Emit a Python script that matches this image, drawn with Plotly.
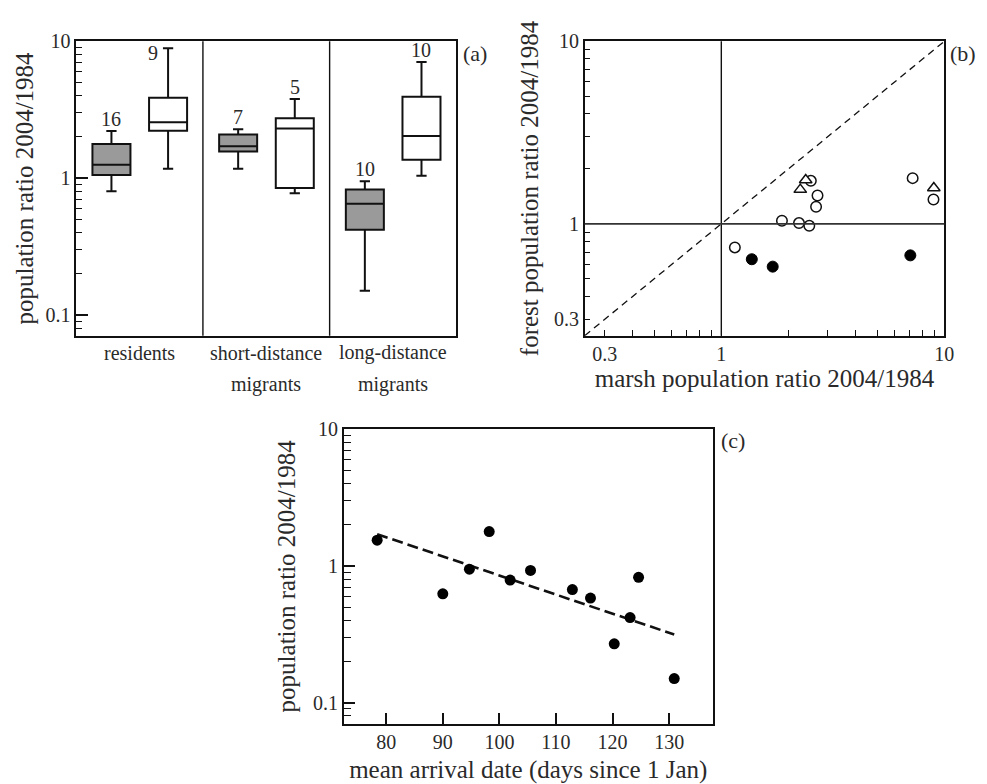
import numpy as np
import plotly.graph_objects as go

# ---------------- data ----------------
# (a) box summaries of 2004/1984 population ratios by migration strategy
groups = ["residents", "short-distance migrants", "long-distance migrants"]
group_label_lines = [["residents"], ["short-distance", "migrants"], ["long-distance", "migrants"]]

forest_lo = [0.80, 1.17, 0.150]
forest_q1 = [1.05, 1.56, 0.419]
forest_med = [1.25, 1.71, 0.648]
forest_q3 = [1.77, 2.08, 0.823]
forest_hi = [2.21, 2.27, 0.945]
forest_n = [16, 7, 10]

marsh_lo = [1.17, 0.774, 1.04]
marsh_q1 = [2.22, 0.847, 1.36]
marsh_med = [2.56, 2.30, 2.03]
marsh_q3 = [3.86, 2.73, 3.93]
marsh_hi = [8.9, 3.78, 7.06]
marsh_n = [9, 5, 10]

# (b) marsh vs forest ratios per species, three symbol groups
open_marsh = [2.52, 2.70, 2.66, 1.87, 2.23, 2.48, 1.15, 7.21, 8.94]
open_forest = [1.72, 1.43, 1.24, 1.04, 1.01, 0.975, 0.743, 1.78, 1.36]
tri_marsh = [2.39, 2.26, 8.97]
tri_forest = [1.74, 1.54, 1.57]
filled_marsh = [1.37, 1.70, 7.04]
filled_forest = [0.64, 0.583, 0.672]

# (c) mean arrival date vs population ratio
arrival_day = [78.4, 90.0, 94.7, 98.2, 101.9, 105.5, 112.9, 116.1, 120.3, 123.1, 124.6, 130.9]
arrival_ratio = [1.54, 0.624, 0.945, 1.78, 0.787, 0.925, 0.671, 0.581, 0.269, 0.419, 0.824, 0.150]

# tick labels
ratio_ticks_ac = [0.1, 1, 10]
ratio_ticks_b = [0.3, 1, 10]
day_ticks = [80, 90, 100, 110, 120, 130]

# ---------------- styling ----------------
W, H = 987, 784
FONT = "Liberation Serif"
TXT = "#2a2a2a"
GREY = "#9a9a9a"
TICK_FONT = dict(family=FONT, size=20, color=TXT)
TITLE_FONT = dict(family=FONT, size=25, color=TXT)


def px_x(p):
    return p / W


def px_y(p):
    return 1 - p / H


def minor_vals(lo_exp, hi_exp, skip=()):
    vals = []
    for e in range(lo_exp, hi_exp + 1):
        for d in range(2, 10):
            v = d * 10.0 ** e
            if round(v, 6) not in skip:
                vals.append(v)
    return vals


dom_a_x = [px_x(77), px_x(461)]
dom_ab_y = [px_y(329.3), px_y(30.7)]
dom_b_x = [px_x(590.7), px_x(954)]
dom_c_x = [px_x(347.3), px_x(720)]
dom_c_y = [px_y(722.7), px_y(424)]

log_ac_range = [-1.153, 1.0]
log_b_range = [-0.6125, 1.0]

fig = go.Figure()

# ---------------- (a) boxes ----------------
box_w = 0.30
forest_pos = [i + 0.278 for i in range(len(groups))]
marsh_pos = [i + 0.725 for i in range(len(groups))]

for pos, lo, q1, med, q3, hi, fill in [
    (forest_pos, forest_lo, forest_q1, forest_med, forest_q3, forest_hi, GREY),
    (marsh_pos, marsh_lo, marsh_q1, marsh_med, marsh_q3, marsh_hi, "white"),
]:
    fig.add_trace(go.Box(
        x=pos, q1=q1, median=med, q3=q3, lowerfence=lo, upperfence=hi,
        width=box_w, whiskerwidth=0.27, fillcolor=fill,
        line=dict(color="#111111", width=2), boxpoints=False,
        xaxis="x", yaxis="y", showlegend=False, hoverinfo="skip",
    ))

annotations = []
for pos_list, hi_list, n_list in [(forest_pos, forest_hi, forest_n), (marsh_pos, marsh_hi, marsh_n)]:
    for pos, hi, n in zip(pos_list, hi_list, n_list):
        if hi > 8:
            # whisker runs up to the frame: put the count beside it
            annotations.append(dict(
                x=pos, y=np.log10(hi), xref="x", yref="y", text=str(n),
                showarrow=False, xanchor="right", yanchor="middle",
                xshift=-8, yshift=-5, font=dict(family=FONT, size=20, color=TXT)))
        else:
            annotations.append(dict(
                x=pos, y=np.log10(hi), xref="x", yref="y", text=str(n),
                showarrow=False, xanchor="center", yanchor="bottom",
                yshift=-1, font=dict(family=FONT, size=20, color=TXT)))

# group labels under panel (a)
for i, lines in enumerate(group_label_lines):
    for j, line in enumerate(lines):
        annotations.append(dict(
            x=i + 0.5, y=dom_ab_y[0], xref="x", yref="paper", text=line,
            showarrow=False, xanchor="center", yanchor="middle",
            yshift=-17 - 32 * j, font=dict(family=FONT, size=20, color=TXT)))

shapes = []
for k in range(1, len(groups)):
    shapes.append(dict(type="line", xref="x", yref="y domain", x0=k, x1=k, y0=0, y1=1,
                       line=dict(color="#111111", width=1.4)))

# ---------------- (b) scatter ----------------
lo_b = 10 ** log_b_range[0]
hi_b = 10 ** log_b_range[1]
fig.add_trace(go.Scatter(
    x=[lo_b, hi_b], y=[lo_b, hi_b], mode="lines",
    line=dict(color="#111111", width=1.3, dash="7px,5px"),
    xaxis="x2", yaxis="y2", showlegend=False, hoverinfo="skip"))
shapes.append(dict(type="line", xref="x2", yref="y2 domain", x0=1, x1=1, y0=0, y1=1,
                   line=dict(color="#111111", width=1.4)))
shapes.append(dict(type="line", xref="x2 domain", yref="y2", x0=0, x1=1, y0=1, y1=1,
                   line=dict(color="#333333", width=1.7)))

fig.add_trace(go.Scatter(
    x=open_marsh, y=open_forest, mode="markers",
    marker=dict(symbol="circle", size=10.5, color="white", line=dict(color="#111111", width=1.5)),
    xaxis="x2", yaxis="y2", showlegend=False))
fig.add_trace(go.Scatter(
    x=tri_marsh, y=tri_forest, mode="markers",
    marker=dict(symbol="triangle-up", size=11, color="white", line=dict(color="#111111", width=1.5)),
    xaxis="x2", yaxis="y2", showlegend=False))
fig.add_trace(go.Scatter(
    x=filled_marsh, y=filled_forest, mode="markers",
    marker=dict(symbol="circle", size=11, color="#000000", line=dict(color="#000000", width=1)),
    xaxis="x2", yaxis="y2", showlegend=False))

# ---------------- (c) arrival date ----------------
slope, intercept = np.polyfit(arrival_day, np.log10(arrival_ratio), 1)
fit_x = np.array([min(arrival_day), max(arrival_day)])
fit_y = 10 ** (intercept + slope * fit_x)
fig.add_trace(go.Scatter(
    x=fit_x, y=fit_y, mode="lines",
    line=dict(color="#111111", width=2.6, dash="11px,5px"),
    xaxis="x3", yaxis="y3", showlegend=False, hoverinfo="skip"))
fig.add_trace(go.Scatter(
    x=arrival_day, y=arrival_ratio, mode="markers",
    marker=dict(symbol="circle", size=11, color="#000000"),
    xaxis="x3", yaxis="y3", showlegend=False))

# panel letters
for txt, xp, yp in [("(a)", 480, 43), ("(b)", 973, 43), ("(c)", 740, 436)]:
    annotations.append(dict(x=px_x(xp), y=px_y(yp), xref="paper", yref="paper", text=txt,
                            showarrow=False, xanchor="center", yanchor="middle",
                            font=dict(family=FONT, size=22, color=TXT)))

# ---------------- axes ----------------
frame = dict(showline=True, mirror=True, linecolor="#111111", linewidth=1.5,
             showgrid=False, zeroline=False, fixedrange=True, tickcolor="#111111")

minor_ac = dict(ticks="inside", ticklen=6, tickwidth=1.3, tickcolor="#111111",
                tickmode="array", tickvals=minor_vals(-2, 0), showgrid=False)

fig.update_layout(
    width=W, height=H, autosize=False,
    margin=dict(l=0, r=0, t=0, b=0),
    paper_bgcolor="white", plot_bgcolor="white",
    font=dict(family=FONT, color=TXT),
    xaxis=dict(domain=dom_a_x, anchor="y", range=[0, 3], showticklabels=False, ticks="", **frame),
    yaxis=dict(domain=dom_ab_y, anchor="x", type="log", range=log_ac_range,
               tickmode="array", tickvals=ratio_ticks_ac, ticktext=[str(v) for v in ratio_ticks_ac],
               ticks="inside", ticklen=12, tickwidth=1.5, tickfont=TICK_FONT,
               minor=minor_ac,
               title=dict(text="population ratio 2004/1984", font=TITLE_FONT, standoff=5),
               **frame),
    xaxis2=dict(domain=dom_b_x, anchor="y2", type="log", range=log_b_range,
                tickmode="array", tickvals=ratio_ticks_b, ticktext=[str(v) for v in ratio_ticks_b],
                ticks="inside", ticklen=6, tickwidth=1.3, tickfont=TICK_FONT,
                minor=dict(ticks="inside", ticklen=6, tickwidth=1.3, tickcolor="#111111",
                           tickmode="array", tickvals=minor_vals(-1, 0, skip=(0.3,)), showgrid=False),
                title=dict(text="marsh population ratio 2004/1984", font=TITLE_FONT, standoff=4),
                **frame),
    yaxis2=dict(domain=dom_ab_y, anchor="x2", type="log", range=log_b_range,
                tickmode="array", tickvals=ratio_ticks_b, ticktext=[str(v) for v in ratio_ticks_b],
                ticks="inside", ticklen=6, tickwidth=1.3, tickfont=TICK_FONT,
                minor=dict(ticks="inside", ticklen=6, tickwidth=1.3, tickcolor="#111111",
                           tickmode="array", tickvals=minor_vals(-1, 0, skip=(0.3,)), showgrid=False),
                title=dict(text="forest population ratio 2004/1984", font=TITLE_FONT, standoff=8),
                **frame),
    xaxis3=dict(domain=dom_c_x, anchor="y3", range=[72.5, 137.7],
                tickmode="array", tickvals=day_ticks, ticks="inside", ticklen=11, tickwidth=1.5,
                tickfont=TICK_FONT,
                title=dict(text="mean arrival date (days since 1 Jan)", font=TITLE_FONT, standoff=13),
                **frame),
    yaxis3=dict(domain=dom_c_y, anchor="x3", type="log", range=log_ac_range,
                tickmode="array", tickvals=ratio_ticks_ac, ticktext=[str(v) for v in ratio_ticks_ac],
                ticks="inside", ticklen=11, tickwidth=1.5, tickfont=TICK_FONT,
                minor=dict(ticks="inside", ticklen=7, tickwidth=1.3, tickcolor="#111111",
                           tickmode="array", tickvals=minor_vals(-2, 0), showgrid=False),
                title=dict(text="population ratio 2004/1984", font=TITLE_FONT, standoff=10),
                **frame),
    annotations=annotations,
    shapes=shapes,
)

fig.write_html("out.html")
